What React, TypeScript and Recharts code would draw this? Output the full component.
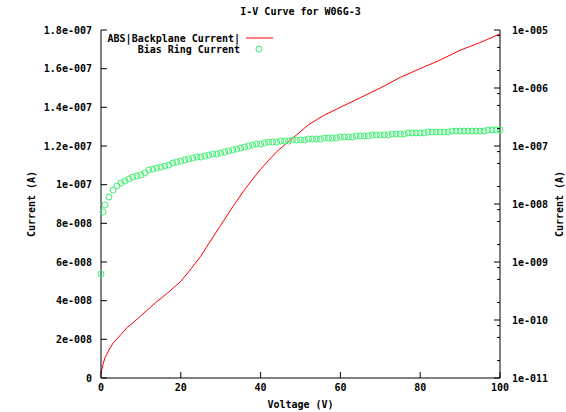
import React from 'react';
import { ComposedChart, Line, Scatter, XAxis, YAxis } from 'recharts';

const FONT = '"DejaVu Sans Mono", monospace';

// Red: ABS|Backplane Current| (left, linear axis)
const redVoltage = [0, 0.5, 1, 2, 3, 5, 6.5, 8, 11.5, 14, 17, 20, 22, 25, 27, 30, 33, 36, 40, 44, 48, 52, 56, 60, 65, 70, 75, 80, 85, 90, 95, 100];
const redCurrent = [
  0.25e-8, 0.7e-8, 1.05e-8, 1.45e-8, 1.8e-8, 2.25e-8, 2.6e-8, 2.85e-8, 3.5e-8, 3.95e-8, 4.45e-8, 5.0e-8,
  5.5e-8, 6.3e-8, 6.95e-8, 7.9e-8, 8.85e-8, 9.75e-8, 10.8e-8, 11.7e-8, 12.4e-8, 13.1e-8, 13.6e-8, 14.0e-8,
  14.5e-8, 15.0e-8, 15.55e-8, 16.0e-8, 16.45e-8, 16.95e-8, 17.35e-8, 17.8e-8,
];

// Green: Bias Ring Current (right, log axis)
const greenVoltage = [
  0, 0.5, 1, 2, 3, 4, 5, 6, 7, 8, 9, 10, 11, 12, 13, 14, 15, 16, 17, 18, 19, 20, 21, 22, 23, 24, 25, 26, 27, 28, 29,
  30, 31, 32, 33, 34, 35, 36, 37, 38, 39, 40, 41, 42, 43, 44, 45, 46, 47, 48, 49, 50, 51, 52, 53, 54, 55, 56, 57, 58, 59,
  60, 61, 62, 63, 64, 65, 66, 67, 68, 69, 70, 71, 72, 73, 74, 75, 76, 77, 78, 79, 80, 81, 82, 83, 84, 85, 86, 87, 88, 89,
  90, 91, 92, 93, 94, 95, 96, 97, 98, 99, 100,
];
const greenCurrent = [
  6.2e-10, 7.3e-9, 9.6e-9, 1.32e-8, 1.74e-8, 2.04e-8, 2.3e-8, 2.49e-8, 2.7e-8, 2.92e-8, 3.04e-8, 3.16e-8, 3.43e-8,
  3.86e-8, 4.01e-8, 4.18e-8, 4.34e-8, 4.52e-8, 4.7e-8, 5.09e-8, 5.3e-8, 5.51e-8, 5.74e-8, 5.97e-8, 6.21e-8, 6.46e-8,
  6.46e-8, 6.72e-8, 6.99e-8, 7.28e-8, 7.28e-8,
  7.57e-8, 7.88e-8, 8.2e-8, 8.53e-8, 8.88e-8, 9.24e-8, 9.61e-8, 1.0e-7, 1.04e-7, 1.08e-7,
  1.08e-7, 1.13e-7, 1.17e-7, 1.17e-7, 1.17e-7, 1.22e-7, 1.22e-7, 1.22e-7, 1.27e-7, 1.27e-7,
  1.27e-7, 1.27e-7, 1.32e-7, 1.32e-7, 1.32e-7, 1.32e-7, 1.37e-7, 1.37e-7, 1.37e-7, 1.37e-7,
  1.43e-7, 1.43e-7, 1.43e-7, 1.43e-7, 1.49e-7, 1.49e-7, 1.49e-7, 1.49e-7, 1.55e-7, 1.55e-7,
  1.55e-7, 1.55e-7, 1.55e-7, 1.61e-7, 1.61e-7, 1.61e-7, 1.61e-7, 1.68e-7, 1.68e-7, 1.68e-7,
  1.68e-7, 1.68e-7, 1.74e-7, 1.74e-7, 1.74e-7, 1.74e-7, 1.74e-7, 1.74e-7, 1.81e-7, 1.81e-7,
  1.81e-7, 1.81e-7, 1.81e-7, 1.81e-7, 1.81e-7, 1.81e-7, 1.81e-7, 1.89e-7, 1.89e-7, 1.89e-7, 1.89e-7,
];

const xTicks = [0, 20, 40, 60, 80, 100];
const leftTicks = [0, 2e-8, 4e-8, 6e-8, 8e-8, 1e-7, 1.2e-7, 1.4e-7, 1.6e-7, 1.8e-7];
const leftTickLabels = ['0', '2e-008', '4e-008', '6e-008', '8e-008', '1e-007', '1.2e-007', '1.4e-007', '1.6e-007', '1.8e-007'];
const rightMajorTicks = [1e-11, 1e-10, 1e-9, 1e-8, 1e-7, 1e-6, 1e-5];
const rightTickLabels = ['1e-011', '1e-010', '1e-009', '1e-008', '1e-007', '1e-006', '1e-005'];
const rightMinorSteps = [2, 5, 8];

const redData = redVoltage.map((v, i) => ({ v, i: redCurrent[i] }));
const greenData = greenVoltage.map((v, i) => ({ v, i: greenCurrent[i] }));
const rightTicks: number[] = [];
rightMajorTicks.forEach((m, k) => {
  rightTicks.push(m);
  if (k < rightMajorTicks.length - 1) rightMinorSteps.forEach((s) => rightTicks.push(m * s));
});

const txt = { fontFamily: FONT, fontSize: 10, fontWeight: 'bold' as const, fill: '#000' };

const BottomTick = ({ x, y, payload }: any) => (
  <g>
    <line x1={x} x2={x} y1={y} y2={y - 6} stroke="#000" />
    <text x={x} y={y + 9} textAnchor="middle" dominantBaseline="central" {...txt}>{payload.value}</text>
  </g>
);

const TopTick = ({ x, y }: any) => <line x1={x} x2={x} y1={y} y2={y + 6} stroke="#000" />;

const LeftTick = ({ x, y, payload }: any) => {
  const idx = leftTicks.findIndex((t) => Math.abs(t - payload.value) < 1e-12);
  return (
    <g>
      <line x1={x} x2={x + 6} y1={y} y2={y} stroke="#000" />
      <text x={x - 9} y={y} textAnchor="end" dominantBaseline="central" {...txt}>{leftTickLabels[idx] ?? ''}</text>
    </g>
  );
};

const RightTick = ({ x, y, payload }: any) => {
  const idx = rightMajorTicks.findIndex((t) => Math.abs(t - payload.value) / t < 1e-6);
  const major = idx >= 0;
  return (
    <g>
      <line x1={x} x2={x - (major ? 6 : 3)} y1={y} y2={y} stroke="#000" />
      {major && (
        <text x={x + 12} y={y} textAnchor="start" dominantBaseline="central" {...txt}>{rightTickLabels[idx]}</text>
      )}
    </g>
  );
};

const Ring = ({ cx, cy }: any) => (
  <circle cx={cx} cy={cy} r={3} fill="none" stroke="#3cf070" strokeWidth={1} />
);

const label: React.CSSProperties = {
  position: 'absolute',
  fontFamily: FONT,
  fontSize: 10,
  fontWeight: 'bold',
  color: '#000',
  whiteSpace: 'nowrap',
  lineHeight: '12px',
};

export default function App() {
  return (
    <div style={{ position: 'absolute', left: 0, top: 0, width: 566, height: 412, background: '#fff' }}>
      <ComposedChart width={566} height={412} data={redData} margin={{ top: 30, right: 0, bottom: 0, left: 0 }}>
        <XAxis
          dataKey="v"
          type="number"
          domain={[0, 100]}
          ticks={xTicks}
          height={34}
          axisLine={{ stroke: '#000' }}
          tickLine={false}
          tickSize={0}
          tickMargin={0}
          tick={<BottomTick />}
          interval={0}
        />
        <XAxis
          xAxisId="top"
          orientation="top"
          dataKey="v"
          type="number"
          domain={[0, 100]}
          ticks={xTicks}
          height={0}
          axisLine={{ stroke: '#000' }}
          tickLine={false}
          tickSize={0}
          tickMargin={0}
          tick={<TopTick />}
          interval={0}
        />
        <YAxis
          yAxisId="left"
          type="number"
          domain={[0, 1.8e-7]}
          ticks={leftTicks}
          width={101}
          axisLine={{ stroke: '#000' }}
          tickLine={false}
          tickSize={0}
          tickMargin={0}
          tick={<LeftTick />}
          interval={0}
          allowDataOverflow
        />
        <YAxis
          yAxisId="right"
          orientation="right"
          type="number"
          scale="log"
          domain={[1e-11, 1e-5]}
          ticks={rightTicks}
          width={66}
          axisLine={{ stroke: '#000' }}
          tickLine={false}
          tickSize={0}
          tickMargin={0}
          tick={<RightTick />}
          interval={0}
          allowDataOverflow
        />
        <Line
          yAxisId="left"
          data={redData}
          dataKey="i"
          type="linear"
          stroke="#ff0000"
          strokeWidth={1}
          dot={false}
          isAnimationActive={false}
        />
        <Scatter
          yAxisId="right"
          data={greenData}
          dataKey="i"
          shape={<Ring />}
          isAnimationActive={false}
        />
      </ComposedChart>

      <div style={{ ...label, left: 0, width: 601, top: 6, textAlign: 'center' }}>I-V Curve for W06G-3</div>
      <div style={{ ...label, left: 0, width: 601, top: 399, textAlign: 'center' }}>Voltage (V)</div>
      <div style={{ ...label, left: 32, top: 204, transform: 'translate(-50%, -50%) rotate(-90deg)' }}>Current (A)</div>
      <div style={{ ...label, left: 560, top: 204, transform: 'translate(-50%, -50%) rotate(-90deg)' }}>Current (A)</div>

      <svg style={{ position: 'absolute', left: 0, top: 0 }} width={566} height={412}>
        <text x={240} y={38} textAnchor="end" dominantBaseline="central" {...txt}>ABS|Backplane Current|</text>
        <line x1={246} x2={273} y1={38} y2={38} stroke="#ff0000" />
        <text x={240} y={49} textAnchor="end" dominantBaseline="central" {...txt}>Bias Ring Current</text>
        <circle cx={259} cy={49} r={3} fill="none" stroke="#3cf070" />
      </svg>
    </div>
  );
}
